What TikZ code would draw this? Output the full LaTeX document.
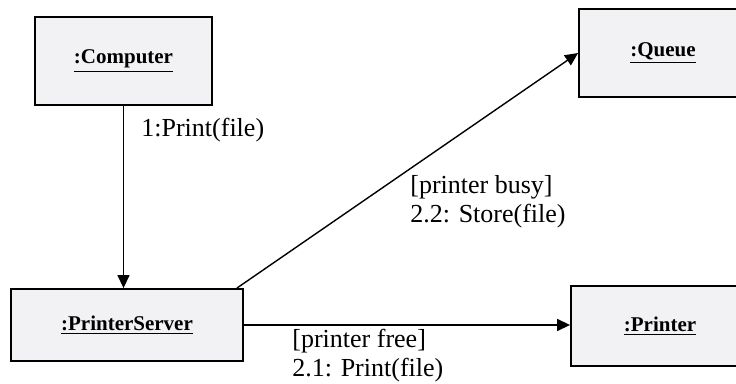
\documentclass[tikz,border=0pt]{standalone}
\usepackage{fontspec}
\setmainfont{Liberation Serif}
\usetikzlibrary{arrows.meta}
\definecolor{objfill}{RGB}{242,242,244}
\begin{document}
\begin{tikzpicture}[x=0.5pt,y=-0.5pt,
        obj/.style={draw, line width=0.9pt, fill=objfill, inner sep=0pt,
            font=\fontsize{10.5}{12}\selectfont\bfseries},
        msg/.style={line width=0.7pt, -{Triangle[length=6.5pt,width=6pt]}},
        lbl/.style={inner sep=0pt, align=left, anchor=north west,
            font=\fontsize{13}{14.5}\selectfont}]
    \useasboundingbox (0,0) rectangle (736,384);
    \clip (0,0) rectangle (736,384);

    \node[obj, minimum width=88.5pt, minimum height=44pt] (comp) at (123.5,61) {\underline{:Computer}};
    \node[obj, minimum width=116pt, minimum height=36pt] (srv) at (127,325) {\underline{:PrinterServer}};
    \node[obj, minimum width=84pt, minimum height=44pt] (queue) at (663,53) {\underline{:Queue}};
    \node[obj, minimum width=89pt, minimum height=40pt] (prn) at (660,326) {\underline{:Printer}};

    \draw[msg] (comp.south) -- (comp.south |- srv.north);
    \draw[msg] ([xshift=-3.5pt]srv.north east) -- (queue.west);
    \draw[msg] (srv.east) -- (srv.east -| prn.west);

    \node[lbl] (m1) at (141,118) {1:Print(file)};
    \node[lbl] (m22) at (410,175) {[printer busy]\\2.2: Store(file)};
    \node[lbl] (m21) at (292,329) {[printer free]\\2.1: Print(file)};
\end{tikzpicture}
\end{document}
